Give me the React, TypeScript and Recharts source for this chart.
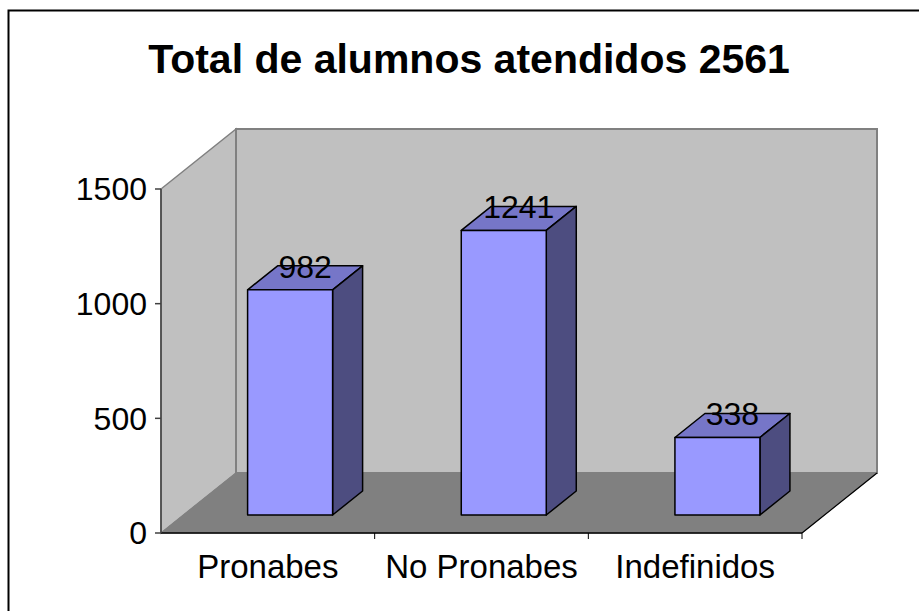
import * as R from 'recharts'
import { BarChart, Bar, XAxis, YAxis, LabelList, Customized } from 'recharts'

const categories = ['Pronabes', 'No Pronabes', 'Indefinidos']
const alumnos = [982, 1241, 338]
const yTicks = [0, 500, 1000, 1500]
const chartTitle = 'Total de alumnos atendidos 2561'

const data = categories.map((name, i) => ({ name, alumnos: alumnos[i] }))

const FONT = '"Liberation Sans", Arial, sans-serif'
const W = 919
const H = 611
const MARGIN = { top: 189, right: 117, bottom: 38, left: 81 }
const Y_AXIS_W = 80
const X_AXIS_H = 40

// offset of the back wall from the front plane (the 3D depth)
const DEPTH_X = 75
const DEPTH_Y = -60
// bars sit from 30% to 70% of the depth
const BAR_START = 0.3
const BAR_DEPTH = 0.4

// fall back to our own margins if the hook isn't there
const usePlot: () => any = (R as any).usePlotArea ?? (() => null)

function plotBox() {
  const area = usePlot()
  if (area && area.width) return area
  return {
    x: MARGIN.left + Y_AXIS_W,
    y: MARGIN.top,
    width: W - MARGIN.left - Y_AXIS_W - MARGIN.right,
    height: H - MARGIN.top - MARGIN.bottom - X_AXIS_H,
  }
}

function Walls() {
  const { x, y, width, height } = plotBox()
  const l = x
  const r = x + width
  const t = y
  const b = y + height
  const step = width / categories.length
  return (
    <g>
      {/* left wall */}
      <polygon
        points={`${l},${t} ${l + DEPTH_X},${t + DEPTH_Y} ${l + DEPTH_X},${b + DEPTH_Y} ${l},${b}`}
        fill='#C0C0C0'
        stroke='#808080'
        strokeWidth={1.5}
      />
      {/* back wall */}
      <rect
        x={l + DEPTH_X}
        y={t + DEPTH_Y}
        width={width}
        height={height}
        fill='#C0C0C0'
        stroke='#808080'
        strokeWidth={2}
      />
      {/* floor */}
      <polygon
        points={`${l},${b} ${l + DEPTH_X},${b + DEPTH_Y} ${r + DEPTH_X},${b + DEPTH_Y} ${r},${b}`}
        fill='#808080'
        stroke='#808080'
        strokeWidth={1}
      />
      <line x1={r} y1={b} x2={r + DEPTH_X} y2={b + DEPTH_Y} stroke='#000' strokeWidth={1.2} />
      {/* category separators below the axis */}
      {categories.map((_, i) => (
        <line key={i} x1={l + step * (i + 1)} y1={b} x2={l + step * (i + 1)} y2={b + 6} stroke='#000' strokeWidth={1} />
      ))}
    </g>
  )
}

function Frame() {
  return (
    <g>
      <path d={`M8.5,${H} V10.5 H${W}`} fill='none' stroke='#000' strokeWidth={2} />
      <text x={469} y={73} textAnchor='middle' fontFamily={FONT} fontSize={41} fontWeight='bold' fill='#000'>
        {chartTitle}
      </text>
    </g>
  )
}

function Box3D(props: any) {
  const { x, y, width, height } = props
  if (width == null || height == null) return null
  const fx = x + DEPTH_X * BAR_START
  const fy = y + DEPTH_Y * BAR_START
  const dx = DEPTH_X * BAR_DEPTH
  const dy = DEPTH_Y * BAR_DEPTH
  const r = fx + width
  const b = fy + height
  return (
    <g stroke='#000' strokeWidth={1.5} strokeLinejoin='round'>
      <polygon points={`${fx},${fy} ${fx + dx},${fy + dy} ${r + dx},${fy + dy} ${r},${fy}`} fill='#7676C8' />
      <polygon points={`${r},${fy} ${r + dx},${fy + dy} ${r + dx},${b + dy} ${r},${b}`} fill='#4D4D80' />
      <rect x={fx} y={fy} width={width} height={height} fill='#9999FF' />
    </g>
  )
}

function TopLabel(props: any) {
  const { x, y, width, value } = props
  const cx = x + DEPTH_X * (BAR_START + BAR_DEPTH / 2) + width / 2
  const cy = y + DEPTH_Y * (BAR_START + BAR_DEPTH / 2)
  return (
    <text x={cx} y={cy} textAnchor='middle' fontFamily={FONT} fontSize={32} fill='#000'>
      {value}
    </text>
  )
}

function CategoryTick(props: any) {
  const { x, y, payload } = props
  return (
    <text x={x} y={y + 45} textAnchor='middle' fontFamily={FONT} fontSize={33} fill='#000'>
      {payload.value}
    </text>
  )
}

export default function App() {
  return (
    <div style={{ position: 'absolute', left: 0, top: 0, background: '#fff' }}>
      <BarChart width={W} height={H} data={data} margin={MARGIN} barCategoryGap='30%'>
        <Customized component={<Walls />} />
        <Customized component={<Frame />} />
        <XAxis
          dataKey='name'
          height={X_AXIS_H}
          tickLine={false}
          tickSize={0}
          tickMargin={0}
          axisLine={{ stroke: '#000', strokeWidth: 1.5 }}
          tick={<CategoryTick />}
          interval={0}
        />
        <YAxis
          width={Y_AXIS_W}
          domain={[0, 1500]}
          ticks={yTicks}
          interval={0}
          tickSize={6}
          tickMargin={8}
          axisLine={{ stroke: '#404040', strokeWidth: 1.5 }}
          tickLine={{ stroke: '#404040', strokeWidth: 1.5 }}
          tick={{ fill: '#000', fontSize: 32, fontFamily: FONT }}
        />
        <Bar dataKey='alumnos' shape={<Box3D />} isAnimationActive={false}>
          <LabelList dataKey='alumnos' content={<TopLabel />} />
        </Bar>
      </BarChart>
    </div>
  )
}
